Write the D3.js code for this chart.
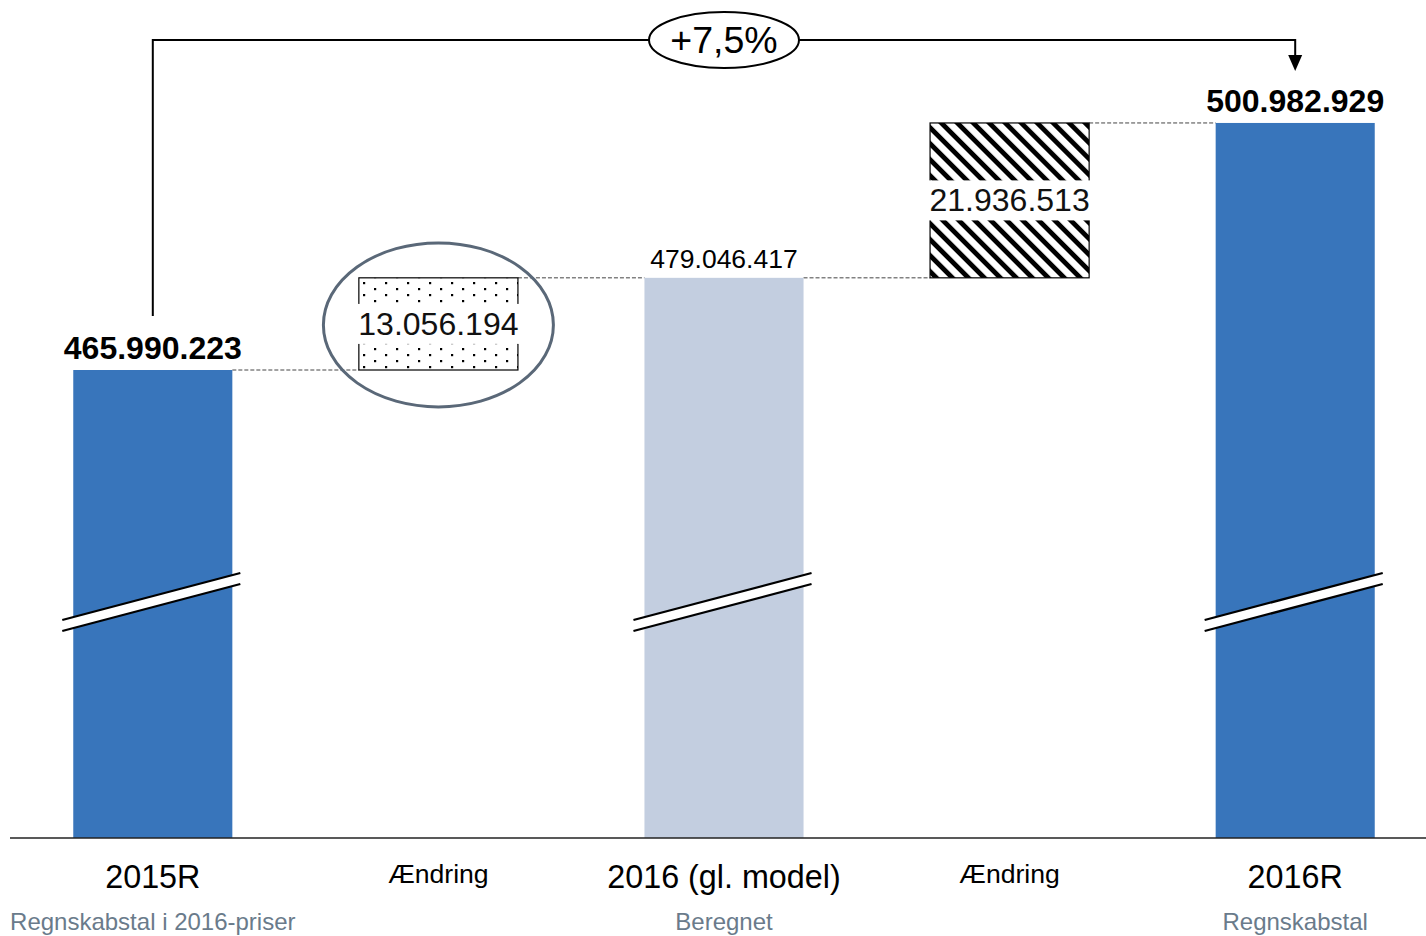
<!DOCTYPE html>
<html><head><meta charset="utf-8">
<script src="https://cdn.jsdelivr.net/npm/d3@7/dist/d3.min.js"></script>
<style>
html,body{margin:0;padding:0;background:#fff;}
svg{display:block;font-family:"Liberation Sans",Arial,sans-serif;}
</style></head>
<body>
<svg id="chart" width="1426" height="936"></svg>
<script>
const categories = ["2015R", "Ændring", "2016 (gl. model)", "Ændring", "2016R"];
const subtitles = ["Regnskabstal i 2016-priser", "", "Beregnet", "", "Regnskabstal"];
const values = [465990223, 13056194, 479046417, 21936513, 500982929];
const kinds = ["total", "delta", "total", "delta", "total"];
const growthLabel = "+7,5%";
const axisDomain = [399700000, 518400000];

const fmt = v => d3.format(",")(v).replace(/,/g, ".");

const W = 1426, H = 936;
const svg = d3.select("#chart");
const defs = svg.append("defs");

// patterns
const dots = defs.append("pattern").attr("id", "dots").attr("patternUnits", "userSpaceOnUse")
  .attr("width", 22).attr("height", 12).attr("x", 363).attr("y", 282);
dots.append("rect").attr("width", 22).attr("height", 12).attr("fill", "#fff");
dots.append("rect").attr("x", 0).attr("y", 0).attr("width", 2.2).attr("height", 2.2).attr("fill", "#000");
dots.append("rect").attr("x", 11).attr("y", 6).attr("width", 2.2).attr("height", 2.2).attr("fill", "#000");

const stripes = defs.append("pattern").attr("id", "stripes").attr("patternUnits", "userSpaceOnUse")
  .attr("width", 11.3).attr("height", 11.3).attr("patternTransform", "rotate(-45)");
stripes.append("rect").attr("width", 11.3).attr("height", 11.3).attr("fill", "#fff");
stripes.append("rect").attr("x", 0).attr("y", 0).attr("width", 4.8).attr("height", 11.3).attr("fill", "#000");

const x = d3.scaleBand().domain(d3.range(categories.length)).range([10, 1438])
  .paddingInner(0.443).paddingOuter(0.2215);
const y = d3.scaleLinear().domain(axisDomain).range([838, 0]);
const bw = x.bandwidth();
const cx = i => x(i) + bw / 2;

// compute waterfall steps
const steps = [];
let running = 0;
values.forEach((v, i) => {
  if (kinds[i] === "total") { steps.push({i, lo: axisDomain[0], hi: v, v}); running = v; }
  else { steps.push({i, lo: running, hi: running + v, v}); running += v; }
});

// connectors (dashed)
for (let k = 0; k < steps.length - 1; k++) {
  const level = steps[k].hi;
  svg.append("line")
    .attr("x1", x(k) + bw).attr("x2", x(k + 1))
    .attr("y1", y(level)).attr("y2", y(level))
    .attr("stroke", "#444").attr("stroke-width", 1).attr("stroke-dasharray", "4,2");
}

// bars
const barColor = ["#3875bb", null, "#c3cee0", null, "#3875bb"];
steps.forEach(s => {
  if (kinds[s.i] === "total") {
    svg.append("rect").attr("x", x(s.i)).attr("width", bw)
      .attr("y", y(s.hi)).attr("height", y(s.lo) - y(s.hi))
      .attr("fill", barColor[s.i]);
  } else {
    const top = y(s.hi), bot = y(s.lo);
    svg.append("rect").attr("x", x(s.i)).attr("width", bw)
      .attr("y", top).attr("height", bot - top)
      .attr("fill", s.i === 1 ? "url(#dots)" : "url(#stripes)")
      .attr("stroke", "#000").attr("stroke-width", 1.2);
    const mid = (top + bot) / 2;
    svg.append("rect").attr("x", x(s.i) - 2).attr("width", bw + 4)
      .attr("y", mid - 20).attr("height", 40).attr("fill", "#fff");
    svg.append("text").attr("x", cx(s.i)).attr("y", mid + 11)
      .attr("text-anchor", "middle").attr("font-size", 32).attr("fill", "#111")
      .text(fmt(s.v));
  }
});

// break marks
steps.forEach(s => {
  if (kinds[s.i] !== "total") return;
  const x1 = x(s.i) - 11, x2 = x(s.i) + bw + 8;
  const yl = 620, yr = 573, gap = 11;
  svg.append("polygon")
    .attr("points", `${x1},${yl} ${x2},${yr} ${x2},${yr + gap} ${x1},${yl + gap}`)
    .attr("fill", "#fff");
  [0, gap].forEach(g => svg.append("line")
    .attr("x1", x1).attr("y1", yl + g).attr("x2", x2).attr("y2", yr + g)
    .attr("stroke", "#000").attr("stroke-width", 2.2));
});

// axis baseline
svg.append("line").attr("x1", 10).attr("x2", W).attr("y1", y(axisDomain[0])).attr("y2", y(axisDomain[0]))
  .attr("stroke", "#222").attr("stroke-width", 1.5);

// total labels
steps.forEach(s => {
  if (kinds[s.i] !== "total") return;
  const bold = s.i !== 2;
  svg.append("text").attr("x", cx(s.i)).attr("y", y(s.hi) - (bold ? 11 : 10))
    .attr("text-anchor", "middle")
    .attr("font-size", bold ? 32 : 26.5).attr("font-weight", bold ? "bold" : "normal")
    .attr("fill", "#000").text(fmt(s.v));
});

// emphasis ellipse on first change
svg.append("ellipse").attr("cx", cx(1)).attr("cy", (y(steps[1].lo) + y(steps[1].hi)) / 2 + 1)
  .attr("rx", 115).attr("ry", 82).attr("fill", "none")
  .attr("stroke", "#5a6878").attr("stroke-width", 3);

// category labels
categories.forEach((c, i) => {
  const isDelta = kinds[i] === "delta";
  svg.append("text").attr("x", cx(i)).attr("y", isDelta ? 883 : 888)
    .attr("text-anchor", "middle").attr("font-size", isDelta ? 26.6 : 32.3)
    .attr("fill", "#000").text(c);
  if (subtitles[i]) svg.append("text").attr("x", cx(i)).attr("y", 930)
    .attr("text-anchor", "middle").attr("font-size", 24)
    .attr("fill", "#6a7b8b").text(subtitles[i]);
});

// growth arrow
const ax0 = cx(0), ax1 = cx(4), ay = 40;
svg.append("path")
  .attr("d", `M${ax0},${y(values[0]) - 54} V${ay} H${ax1} V${ay + 16}`)
  .attr("fill", "none").attr("stroke", "#000").attr("stroke-width", 2);
svg.append("path")
  .attr("d", `M${ax1 - 7},${ay + 15} L${ax1 + 7},${ay + 15} L${ax1},${ay + 31} Z`)
  .attr("fill", "#000");
const ex = (ax0 + ax1) / 2;
svg.append("ellipse").attr("cx", ex).attr("cy", ay).attr("rx", 75).attr("ry", 28)
  .attr("fill", "#fff").attr("stroke", "#000").attr("stroke-width", 2);
svg.append("text").attr("x", ex).attr("y", ay + 13).attr("text-anchor", "middle")
  .attr("font-size", 37.5).attr("fill", "#000").text(growthLabel);
</script>
</body></html>
